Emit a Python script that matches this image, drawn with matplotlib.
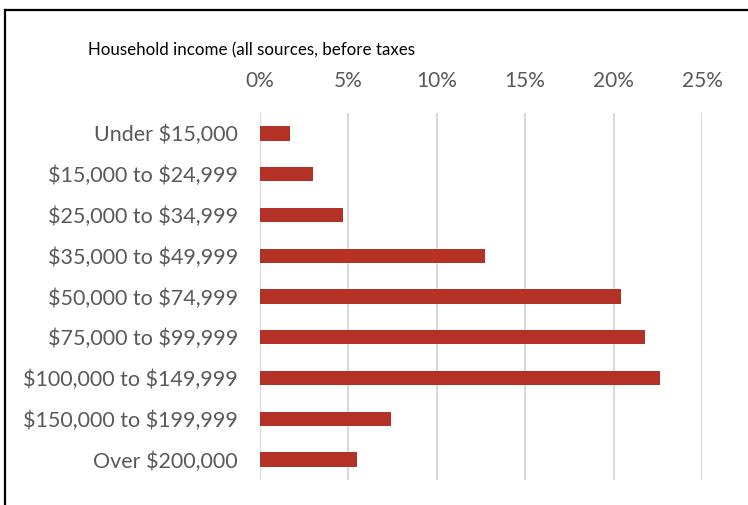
import matplotlib.pyplot as plt
from matplotlib.lines import Line2D

categories = ["Under $15,000", "$15,000 to $24,999", "$25,000 to $34,999",
              "$35,000 to $49,999", "$50,000 to $74,999", "$75,000 to $99,999",
              "$100,000 to $149,999", "$150,000 to $199,999", "Over $200,000"]
shares = [1.7, 3.0, 4.7, 12.7, 20.4, 21.8, 22.6, 7.4, 5.5]
xticks = [0, 5, 10, 15, 20, 25]
xtick_labels = ["0%", "5%", "10%", "15%", "20%", "25%"]

plt.rcParams['font.family'] = ['Lato', 'DejaVu Sans']
plt.rcParams['text.parse_math'] = False

fig = plt.figure(figsize=(7.48, 5.05), dpi=100)
ax = fig.add_axes([260 / 748, 1 - 480 / 505, 442 / 748, 367 / 505])

ypos = list(range(len(categories)))
ax.barh(ypos, shares, height=0.35, color='#B33125', zorder=3)
ax.set_ylim(len(categories) - 0.5, -0.5)
ax.set_xlim(0, 25)

ax.set_xticks(xticks)
ax.set_xticklabels(xtick_labels)
ax.xaxis.tick_top()
ax.set_yticks(ypos)
ax.set_yticklabels(categories)
ax.tick_params(axis='x', length=0, pad=16, labelsize=15, labelcolor='#595959')
ax.tick_params(axis='y', length=0, pad=16, labelsize=15.5, labelcolor='#595959')
ax.grid(axis='x', color='#d9d9d9', linewidth=1.5, zorder=0)
for s in ax.spines.values():
    s.set_visible(False)

fig.text(252 / 748, 1 - 50 / 505, "Household income (all sources, before taxes",
         ha='center', va='center', fontsize=12.2, color='black')

# outer frame (top and left edges)
fig.add_artist(Line2D([5 / 748, 1], [1 - 10 / 505] * 2, color='black', lw=1.6,
                      transform=fig.transFigure))
fig.add_artist(Line2D([5 / 748] * 2, [0, 1 - 10 / 505], color='black', lw=1.6,
                      transform=fig.transFigure))

fig.savefig('out.png', dpi=100)
